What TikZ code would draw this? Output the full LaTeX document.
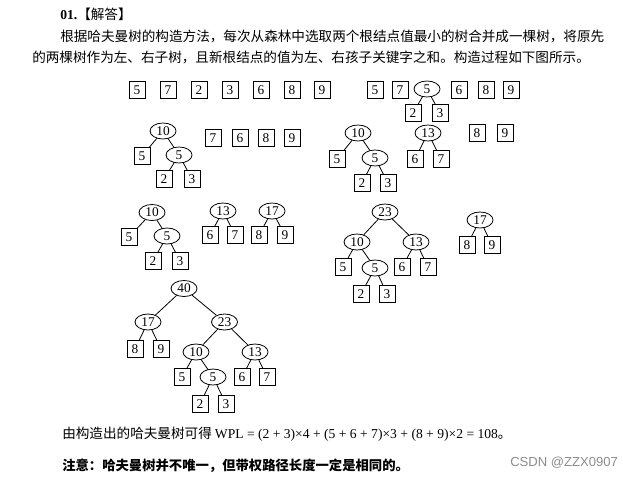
\documentclass[tikz,border=0pt]{standalone}
\usepackage{fontspec}
\setmainfont{Liberation Serif}
\newfontfamily\cjk{Noto Sans CJK SC}
\newfontfamily\wmark{Liberation Sans}
\usetikzlibrary{shapes.geometric}
\begin{document}
\begin{tikzpicture}[x=0.75pt,y=-0.75pt,
  leaf/.style={draw,rectangle,minimum width=12pt,minimum height=12.5pt,inner sep=0pt,line width=0.6pt,font=\fontsize{10}{10}\selectfont},
  inode/.style={draw,ellipse,minimum width=19.5pt,minimum height=12pt,inner sep=0pt,line width=0.6pt,font=\fontsize{10}{10}\selectfont},
  edge/.style={line width=0.6pt},
  txt/.style={anchor=west,inner sep=0pt,font=\cjk\fontsize{10.2}{12}\selectfont}]
\useasboundingbox (0,0) rectangle (623,478);

% ---------- text ----------
\node[txt] (title) at (60,14) {{\rmfamily\bfseries 01.}【解答】};
\node[txt] (p1) at (60,36) {根据哈夫曼树的构造方法，每次从森林中选取两个根结点值最小的树合并成一棵树，将原先};
\node[txt] (p2) at (32,57) {的两棵树作为左、右子树，且新根结点的值为左、右孩子关键字之和。构造过程如下图所示。};
\node[txt] (wpl) at (62,434) {由构造出的哈夫曼树可得 {\rmfamily WPL = (2 + 3)×4 + (5 + 6 + 7)×3 + (8 + 9)×2 = 108}。};
\node[txt,font=\cjk\bfseries\fontsize{10}{12}\selectfont] (note) at (62,466) {注意：哈夫曼树并不唯一，但带权路径长度一定是相同的。};
\node[anchor=west,inner sep=0pt,text=black!45,font=\wmark\fontsize{9.8}{12}\selectfont] (csdn) at (510,463) {CSDN @ZZX0907};

% ---------- forest 1 ----------
\node[leaf] (a1) at (137,90) {5};
\node[leaf] (a2) at (168,90) {7};
\node[leaf] (a3) at (199,90) {2};
\node[leaf] (a4) at (230,90) {3};
\node[leaf] (a5) at (261,90) {6};
\node[leaf] (a6) at (292,90) {8};
\node[leaf] (a7) at (322,90) {9};

% ---------- forest 2 ----------
\node[leaf] (b1) at (375,90) {5};
\node[leaf] (b2) at (400,90) {7};
\node[inode] (b3) at (427,89) {5};
\node[leaf] (b4) at (413,113) {2};
\node[leaf] (b5) at (440,113) {3};
\node[leaf] (b6) at (459,90) {6};
\node[leaf] (b7) at (486,90) {8};
\node[leaf] (b8) at (511,90) {9};
\draw[edge] (b3) -- (b4);
\draw[edge] (b3) -- (b5);

% ---------- forest 3 ----------
\node[inode] (c1) at (163,131) {10};
\node[leaf] (c2) at (142,156) {5};
\node[inode] (c3) at (179,155) {5};
\node[leaf] (c4) at (164,179) {2};
\node[leaf] (c5) at (192,179) {3};
\node[leaf] (c6) at (213,138) {7};
\node[leaf] (c7) at (240,138) {6};
\node[leaf] (c8) at (266,138) {8};
\node[leaf] (c9) at (292,138) {9};
\draw[edge] (c1) -- (c2);
\draw[edge] (c1) -- (c3);
\draw[edge] (c3) -- (c4);
\draw[edge] (c3) -- (c5);

% ---------- forest 4 ----------
\node[inode] (d1) at (358,133) {10};
\node[leaf] (d2) at (337,159) {5};
\node[inode] (d3) at (375,158) {5};
\node[leaf] (d4) at (362,183) {2};
\node[leaf] (d5) at (388,183) {3};
\node[inode] (d6) at (428,133) {13};
\node[leaf] (d7) at (415,159) {6};
\node[leaf] (d8) at (441,159) {7};
\node[leaf] (d9) at (477,133) {8};
\node[leaf] (d10) at (505,133) {9};
\draw[edge] (d1) -- (d2);
\draw[edge] (d1) -- (d3);
\draw[edge] (d3) -- (d4);
\draw[edge] (d3) -- (d5);
\draw[edge] (d6) -- (d7);
\draw[edge] (d6) -- (d8);

% ---------- forest 5 ----------
\node[inode] (e1) at (152,212.5) {10};
\node[leaf] (e2) at (129,237) {5};
\node[inode] (e3) at (167,236) {5};
\node[leaf] (e4) at (153,261) {2};
\node[leaf] (e5) at (180,261) {3};
\node[inode] (e6) at (223,211) {13};
\node[leaf] (e7) at (210,235) {6};
\node[leaf] (e8) at (235,235) {7};
\node[inode] (e9) at (272,211) {17};
\node[leaf] (e10) at (259,235) {8};
\node[leaf] (e11) at (285,235) {9};
\draw[edge] (e1) -- (e2);
\draw[edge] (e1) -- (e3);
\draw[edge] (e3) -- (e4);
\draw[edge] (e3) -- (e5);
\draw[edge] (e6) -- (e7);
\draw[edge] (e6) -- (e8);
\draw[edge] (e9) -- (e10);
\draw[edge] (e9) -- (e11);

% ---------- forest 6 ----------
\node[inode] (f0) at (385,212) {23};
\node[inode] (f1) at (357,242) {10};
\node[leaf] (f2) at (343,267) {5};
\node[inode] (f3) at (375,268) {5};
\node[leaf] (f4) at (361,294) {2};
\node[leaf] (f5) at (387,294) {3};
\node[inode] (f6) at (416,242) {13};
\node[leaf] (f7) at (402,267) {6};
\node[leaf] (f8) at (428,267) {7};
\node[inode] (f9) at (480,220) {17};
\node[leaf] (f10) at (467,245) {8};
\node[leaf] (f11) at (492,245) {9};
\draw[edge] (f0) -- (f1);
\draw[edge] (f0) -- (f6);
\draw[edge] (f1) -- (f2);
\draw[edge] (f1) -- (f3);
\draw[edge] (f3) -- (f4);
\draw[edge] (f3) -- (f5);
\draw[edge] (f6) -- (f7);
\draw[edge] (f6) -- (f8);
\draw[edge] (f9) -- (f10);
\draw[edge] (f9) -- (f11);

% ---------- final tree ----------
\node[inode] (g0) at (184,288.5) {40};
\node[inode] (g1) at (148,322) {17};
\node[leaf] (g2) at (135,349) {8};
\node[leaf] (g3) at (161,349) {9};
\node[inode] (g4) at (224.5,322) {23};
\node[inode] (g5) at (196,352) {10};
\node[leaf] (g6) at (182,377) {5};
\node[inode] (g7) at (213,377) {5};
\node[leaf] (g8) at (200,404) {2};
\node[leaf] (g9) at (226,404) {3};
\node[inode] (g10) at (255,352) {13};
\node[leaf] (g11) at (242,377) {6};
\node[leaf] (g12) at (267,377) {7};
\draw[edge] (g0) -- (g1);
\draw[edge] (g0) -- (g4);
\draw[edge] (g1) -- (g2);
\draw[edge] (g1) -- (g3);
\draw[edge] (g4) -- (g5);
\draw[edge] (g4) -- (g10);
\draw[edge] (g5) -- (g6);
\draw[edge] (g5) -- (g7);
\draw[edge] (g7) -- (g8);
\draw[edge] (g7) -- (g9);
\draw[edge] (g10) -- (g11);
\draw[edge] (g10) -- (g12);
\end{tikzpicture}
\end{document}
